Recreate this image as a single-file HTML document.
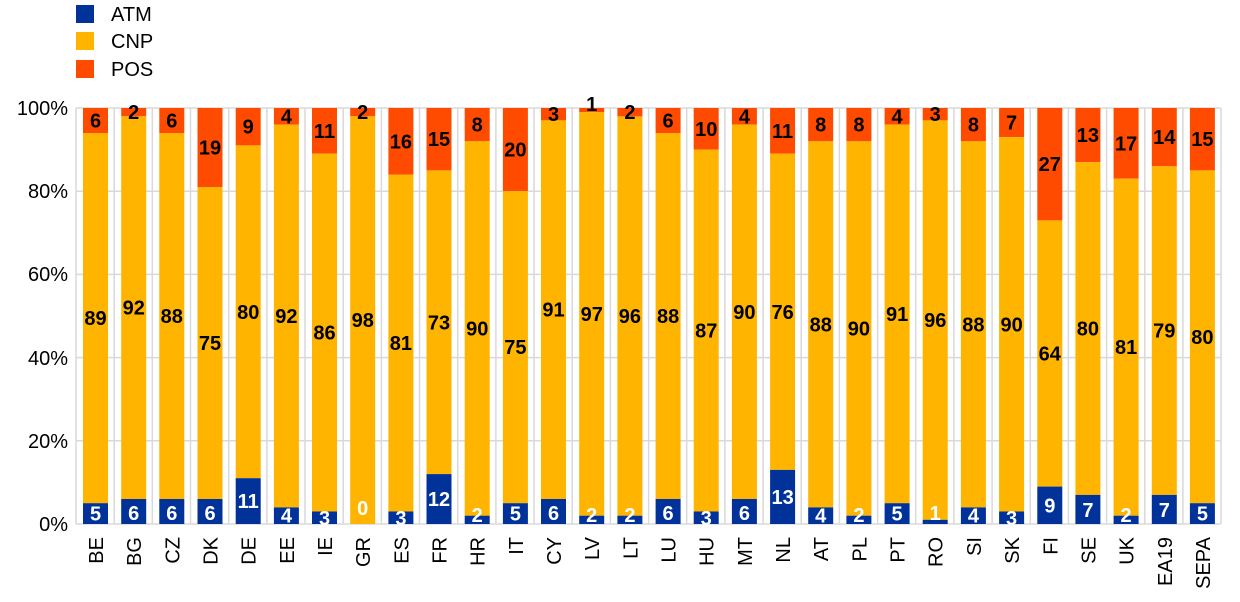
<!DOCTYPE html>
<html><head><meta charset="utf-8"><style>
body{margin:0;background:#fff}
svg{display:block;font-family:"Liberation Sans",Arial,sans-serif}
.v{font-size:20px;font-weight:bold;text-anchor:middle}
.w{fill:#fff}
.t{font-size:20px}
</style></head><body>
<svg width="1240" height="602" viewBox="0 0 1240 602">
<rect x="76" y="5" width="18" height="18" fill="#003299"/>
<rect x="76" y="32" width="18" height="18" fill="#ffb400"/>
<rect x="76" y="60" width="18" height="18" fill="#ff4b00"/>
<text class="t" x="111" y="21">ATM</text>
<text class="t" x="111" y="48">CNP</text>
<text class="t" x="111" y="76">POS</text>
<g stroke="#d9d9d9" stroke-width="1.5">
<line x1="76" x2="1221" y1="108" y2="108"/><line x1="76" x2="1221" y1="191.2" y2="191.2"/><line x1="76" x2="1221" y1="274.4" y2="274.4"/><line x1="76" x2="1221" y1="357.6" y2="357.6"/><line x1="76" x2="1221" y1="440.8" y2="440.8"/><line x1="76" x2="1221" y1="524" y2="524"/>
<line x1="76" x2="76" y1="108" y2="524"/><line x1="114.2" x2="114.2" y1="108" y2="524"/><line x1="152.3" x2="152.3" y1="108" y2="524"/><line x1="190.5" x2="190.5" y1="108" y2="524"/><line x1="228.7" x2="228.7" y1="108" y2="524"/><line x1="266.9" x2="266.9" y1="108" y2="524"/><line x1="305" x2="305" y1="108" y2="524"/><line x1="343.2" x2="343.2" y1="108" y2="524"/><line x1="381.4" x2="381.4" y1="108" y2="524"/><line x1="419.5" x2="419.5" y1="108" y2="524"/><line x1="457.7" x2="457.7" y1="108" y2="524"/><line x1="495.9" x2="495.9" y1="108" y2="524"/><line x1="534" x2="534" y1="108" y2="524"/><line x1="572.2" x2="572.2" y1="108" y2="524"/><line x1="610.4" x2="610.4" y1="108" y2="524"/><line x1="648.6" x2="648.6" y1="108" y2="524"/><line x1="686.7" x2="686.7" y1="108" y2="524"/><line x1="724.9" x2="724.9" y1="108" y2="524"/><line x1="763.1" x2="763.1" y1="108" y2="524"/><line x1="801.2" x2="801.2" y1="108" y2="524"/><line x1="839.4" x2="839.4" y1="108" y2="524"/><line x1="877.6" x2="877.6" y1="108" y2="524"/><line x1="915.7" x2="915.7" y1="108" y2="524"/><line x1="953.9" x2="953.9" y1="108" y2="524"/><line x1="992.1" x2="992.1" y1="108" y2="524"/><line x1="1030.3" x2="1030.3" y1="108" y2="524"/><line x1="1068.4" x2="1068.4" y1="108" y2="524"/><line x1="1106.6" x2="1106.6" y1="108" y2="524"/><line x1="1144.8" x2="1144.8" y1="108" y2="524"/><line x1="1182.9" x2="1182.9" y1="108" y2="524"/><line x1="1221" x2="1221" y1="108" y2="524"/>
</g>
<g class="t" text-anchor="end">
<text x="68" y="115">100%</text><text x="68" y="198">80%</text><text x="68" y="281">60%</text><text x="68" y="365">40%</text><text x="68" y="448">20%</text><text x="68" y="531">0%</text>
</g>

<g transform="translate(83,0)"><rect y="108" width="25" height="25" fill="#ff4b00"/><rect y="133" width="25" height="370.2" fill="#ffb400"/><rect y="503.2" width="25" height="20.8" fill="#003299"/><text class="v" x="12.5" y="120.5" dy=".35em">6</text><text class="v" x="12.5" y="318.1" dy=".35em">89</text><text class="v w" x="12.5" y="513.6" dy=".35em">5</text><text class="t" transform="translate(20,537) rotate(-90)" text-anchor="end">BE</text></g>
<g transform="translate(121.2,0)"><rect y="108" width="25" height="8.3" fill="#ff4b00"/><rect y="116.3" width="25" height="382.7" fill="#ffb400"/><rect y="499" width="25" height="25" fill="#003299"/><text class="v" x="12.5" y="112" dy=".35em">2</text><text class="v" x="12.5" y="307.7" dy=".35em">92</text><text class="v w" x="12.5" y="513" dy=".35em">6</text><text class="t" transform="translate(20,537) rotate(-90)" text-anchor="end">BG</text></g>
<g transform="translate(159.3,0)"><rect y="108" width="25" height="25" fill="#ff4b00"/><rect y="133" width="25" height="366" fill="#ffb400"/><rect y="499" width="25" height="25" fill="#003299"/><text class="v" x="12.5" y="120.5" dy=".35em">6</text><text class="v" x="12.5" y="316" dy=".35em">88</text><text class="v w" x="12.5" y="513" dy=".35em">6</text><text class="t" transform="translate(20,537) rotate(-90)" text-anchor="end">CZ</text></g>
<g transform="translate(197.5,0)"><rect y="108" width="25" height="79" fill="#ff4b00"/><rect y="187" width="25" height="312" fill="#ffb400"/><rect y="499" width="25" height="25" fill="#003299"/><text class="v" x="12.5" y="147.5" dy=".35em">19</text><text class="v" x="12.5" y="343" dy=".35em">75</text><text class="v w" x="12.5" y="513" dy=".35em">6</text><text class="t" transform="translate(20,537) rotate(-90)" text-anchor="end">DK</text></g>
<g transform="translate(235.7,0)"><rect y="108" width="25" height="37.4" fill="#ff4b00"/><rect y="145.4" width="25" height="332.8" fill="#ffb400"/><rect y="478.2" width="25" height="45.8" fill="#003299"/><text class="v" x="12.5" y="126.7" dy=".35em">9</text><text class="v" x="12.5" y="311.8" dy=".35em">80</text><text class="v w" x="12.5" y="501.1" dy=".35em">11</text><text class="t" transform="translate(20,537) rotate(-90)" text-anchor="end">DE</text></g>
<g transform="translate(273.9,0)"><rect y="108" width="25" height="16.7" fill="#ff4b00"/><rect y="124.7" width="25" height="382.7" fill="#ffb400"/><rect y="507.4" width="25" height="16.6" fill="#003299"/><text class="v" x="12.5" y="116.4" dy=".35em">4</text><text class="v" x="12.5" y="316" dy=".35em">92</text><text class="v w" x="12.5" y="515.7" dy=".35em">4</text><text class="t" transform="translate(20,537) rotate(-90)" text-anchor="end">EE</text></g>
<g transform="translate(312,0)"><rect y="108" width="25" height="45.7" fill="#ff4b00"/><rect y="153.7" width="25" height="357.8" fill="#ffb400"/><rect y="511.5" width="25" height="12.5" fill="#003299"/><text class="v" x="12.5" y="130.9" dy=".35em">11</text><text class="v" x="12.5" y="332.6" dy=".35em">86</text><text class="v w" x="12.5" y="517.8" dy=".35em">3</text><text class="t" transform="translate(20,537) rotate(-90)" text-anchor="end">IE</text></g>
<g transform="translate(350.2,0)"><rect y="108" width="25" height="8.3" fill="#ff4b00"/><rect y="116.3" width="25" height="407.7" fill="#ffb400"/><text class="v" x="12.5" y="112" dy=".35em">2</text><text class="v" x="12.5" y="320.2" dy=".35em">98</text><text class="v w" x="12.5" y="508" dy=".35em">0</text><text class="t" transform="translate(20,537) rotate(-90)" text-anchor="end">GR</text></g>
<g transform="translate(388.4,0)"><rect y="108" width="25" height="66.5" fill="#ff4b00"/><rect y="174.5" width="25" height="337" fill="#ffb400"/><rect y="511.5" width="25" height="12.5" fill="#003299"/><text class="v" x="12.5" y="141.3" dy=".35em">16</text><text class="v" x="12.5" y="343" dy=".35em">81</text><text class="v w" x="12.5" y="517.8" dy=".35em">3</text><text class="t" transform="translate(20,537) rotate(-90)" text-anchor="end">ES</text></g>
<g transform="translate(426.5,0)"><rect y="108" width="25" height="62.4" fill="#ff4b00"/><rect y="170.4" width="25" height="303.7" fill="#ffb400"/><rect y="474.1" width="25" height="49.9" fill="#003299"/><text class="v" x="12.5" y="139.2" dy=".35em">15</text><text class="v" x="12.5" y="322.3" dy=".35em">73</text><text class="v w" x="12.5" y="499" dy=".35em">12</text><text class="t" transform="translate(20,537) rotate(-90)" text-anchor="end">FR</text></g>
<g transform="translate(464.7,0)"><rect y="108" width="25" height="33.3" fill="#ff4b00"/><rect y="141.3" width="25" height="374.4" fill="#ffb400"/><rect y="515.7" width="25" height="8.3" fill="#003299"/><text class="v" x="12.5" y="124.7" dy=".35em">8</text><text class="v" x="12.5" y="328.5" dy=".35em">90</text><text class="v w" x="12.5" y="515" dy=".35em">2</text><text class="t" transform="translate(20,537) rotate(-90)" text-anchor="end">HR</text></g>
<g transform="translate(502.9,0)"><rect y="108" width="25" height="83.2" fill="#ff4b00"/><rect y="191.2" width="25" height="312" fill="#ffb400"/><rect y="503.2" width="25" height="20.8" fill="#003299"/><text class="v" x="12.5" y="149.6" dy=".35em">20</text><text class="v" x="12.5" y="347.2" dy=".35em">75</text><text class="v w" x="12.5" y="513.6" dy=".35em">5</text><text class="t" transform="translate(20,537) rotate(-90)" text-anchor="end">IT</text></g>
<g transform="translate(541,0)"><rect y="108" width="25" height="12.4" fill="#ff4b00"/><rect y="120.4" width="25" height="378.6" fill="#ffb400"/><rect y="499" width="25" height="25" fill="#003299"/><text class="v" x="12.5" y="114.2" dy=".35em">3</text><text class="v" x="12.5" y="309.7" dy=".35em">91</text><text class="v w" x="12.5" y="513" dy=".35em">6</text><text class="t" transform="translate(20,537) rotate(-90)" text-anchor="end">CY</text></g>
<g transform="translate(579.2,0)"><rect y="108" width="25" height="4.2" fill="#ff4b00"/><rect y="112.2" width="25" height="403.5" fill="#ffb400"/><rect y="515.7" width="25" height="8.3" fill="#003299"/><text class="v" x="12.5" y="104" dy=".35em">1</text><text class="v" x="12.5" y="314" dy=".35em">97</text><text class="v w" x="12.5" y="515" dy=".35em">2</text><text class="t" transform="translate(20,537) rotate(-90)" text-anchor="end">LV</text></g>
<g transform="translate(617.4,0)"><rect y="108" width="25" height="8.4" fill="#ff4b00"/><rect y="116.4" width="25" height="399.3" fill="#ffb400"/><rect y="515.7" width="25" height="8.3" fill="#003299"/><text class="v" x="12.5" y="112" dy=".35em">2</text><text class="v" x="12.5" y="316" dy=".35em">96</text><text class="v w" x="12.5" y="515" dy=".35em">2</text><text class="t" transform="translate(20,537) rotate(-90)" text-anchor="end">LT</text></g>
<g transform="translate(655.6,0)"><rect y="108" width="25" height="25" fill="#ff4b00"/><rect y="133" width="25" height="366" fill="#ffb400"/><rect y="499" width="25" height="25" fill="#003299"/><text class="v" x="12.5" y="120.5" dy=".35em">6</text><text class="v" x="12.5" y="316" dy=".35em">88</text><text class="v w" x="12.5" y="513" dy=".35em">6</text><text class="t" transform="translate(20,537) rotate(-90)" text-anchor="end">LU</text></g>
<g transform="translate(693.7,0)"><rect y="108" width="25" height="41.6" fill="#ff4b00"/><rect y="149.6" width="25" height="361.9" fill="#ffb400"/><rect y="511.5" width="25" height="12.5" fill="#003299"/><text class="v" x="12.5" y="128.8" dy=".35em">10</text><text class="v" x="12.5" y="330.6" dy=".35em">87</text><text class="v w" x="12.5" y="517.8" dy=".35em">3</text><text class="t" transform="translate(20,537) rotate(-90)" text-anchor="end">HU</text></g>
<g transform="translate(731.9,0)"><rect y="108" width="25" height="16.6" fill="#ff4b00"/><rect y="124.6" width="25" height="374.4" fill="#ffb400"/><rect y="499" width="25" height="25" fill="#003299"/><text class="v" x="12.5" y="116.3" dy=".35em">4</text><text class="v" x="12.5" y="311.8" dy=".35em">90</text><text class="v w" x="12.5" y="513" dy=".35em">6</text><text class="t" transform="translate(20,537) rotate(-90)" text-anchor="end">MT</text></g>
<g transform="translate(770.1,0)"><rect y="108" width="25" height="45.7" fill="#ff4b00"/><rect y="153.7" width="25" height="316.2" fill="#ffb400"/><rect y="469.9" width="25" height="54.1" fill="#003299"/><text class="v" x="12.5" y="130.9" dy=".35em">11</text><text class="v" x="12.5" y="311.8" dy=".35em">76</text><text class="v w" x="12.5" y="497" dy=".35em">13</text><text class="t" transform="translate(20,537) rotate(-90)" text-anchor="end">NL</text></g>
<g transform="translate(808.2,0)"><rect y="108" width="25" height="33.3" fill="#ff4b00"/><rect y="141.3" width="25" height="366.1" fill="#ffb400"/><rect y="507.4" width="25" height="16.6" fill="#003299"/><text class="v" x="12.5" y="124.7" dy=".35em">8</text><text class="v" x="12.5" y="324.3" dy=".35em">88</text><text class="v w" x="12.5" y="515.7" dy=".35em">4</text><text class="t" transform="translate(20,537) rotate(-90)" text-anchor="end">AT</text></g>
<g transform="translate(846.4,0)"><rect y="108" width="25" height="33.3" fill="#ff4b00"/><rect y="141.3" width="25" height="374.4" fill="#ffb400"/><rect y="515.7" width="25" height="8.3" fill="#003299"/><text class="v" x="12.5" y="124.7" dy=".35em">8</text><text class="v" x="12.5" y="328.5" dy=".35em">90</text><text class="v w" x="12.5" y="515" dy=".35em">2</text><text class="t" transform="translate(20,537) rotate(-90)" text-anchor="end">PL</text></g>
<g transform="translate(884.6,0)"><rect y="108" width="25" height="16.6" fill="#ff4b00"/><rect y="124.6" width="25" height="378.6" fill="#ffb400"/><rect y="503.2" width="25" height="20.8" fill="#003299"/><text class="v" x="12.5" y="116.3" dy=".35em">4</text><text class="v" x="12.5" y="313.9" dy=".35em">91</text><text class="v w" x="12.5" y="513.6" dy=".35em">5</text><text class="t" transform="translate(20,537) rotate(-90)" text-anchor="end">PT</text></g>
<g transform="translate(922.7,0)"><rect y="108" width="25" height="12.4" fill="#ff4b00"/><rect y="120.4" width="25" height="399.4" fill="#ffb400"/><rect y="519.8" width="25" height="4.2" fill="#003299"/><text class="v" x="12.5" y="114" dy=".35em">3</text><text class="v" x="12.5" y="320" dy=".35em">96</text><text class="v w" x="12.5" y="513" dy=".35em">1</text><text class="t" transform="translate(20,537) rotate(-90)" text-anchor="end">RO</text></g>
<g transform="translate(960.9,0)"><rect y="108" width="25" height="33.3" fill="#ff4b00"/><rect y="141.3" width="25" height="366.1" fill="#ffb400"/><rect y="507.4" width="25" height="16.6" fill="#003299"/><text class="v" x="12.5" y="124.7" dy=".35em">8</text><text class="v" x="12.5" y="324.3" dy=".35em">88</text><text class="v w" x="12.5" y="515.7" dy=".35em">4</text><text class="t" transform="translate(20,537) rotate(-90)" text-anchor="end">SI</text></g>
<g transform="translate(999.1,0)"><rect y="108" width="25" height="29.1" fill="#ff4b00"/><rect y="137.1" width="25" height="374.4" fill="#ffb400"/><rect y="511.5" width="25" height="12.5" fill="#003299"/><text class="v" x="12.5" y="122.6" dy=".35em">7</text><text class="v" x="12.5" y="324.3" dy=".35em">90</text><text class="v w" x="12.5" y="517.8" dy=".35em">3</text><text class="t" transform="translate(20,537) rotate(-90)" text-anchor="end">SK</text></g>
<g transform="translate(1037.3,0)"><rect y="108" width="25" height="112.4" fill="#ff4b00"/><rect y="220.4" width="25" height="266.2" fill="#ffb400"/><rect y="486.6" width="25" height="37.4" fill="#003299"/><text class="v" x="12.5" y="164.2" dy=".35em">27</text><text class="v" x="12.5" y="353.5" dy=".35em">64</text><text class="v w" x="12.5" y="505.3" dy=".35em">9</text><text class="t" transform="translate(20,537) rotate(-90)" text-anchor="end">FI</text></g>
<g transform="translate(1075.4,0)"><rect y="108" width="25" height="54.1" fill="#ff4b00"/><rect y="162.1" width="25" height="332.8" fill="#ffb400"/><rect y="494.9" width="25" height="29.1" fill="#003299"/><text class="v" x="12.5" y="135" dy=".35em">13</text><text class="v" x="12.5" y="328.5" dy=".35em">80</text><text class="v w" x="12.5" y="510" dy=".35em">7</text><text class="t" transform="translate(20,537) rotate(-90)" text-anchor="end">SE</text></g>
<g transform="translate(1113.6,0)"><rect y="108" width="25" height="70.7" fill="#ff4b00"/><rect y="178.7" width="25" height="337" fill="#ffb400"/><rect y="515.7" width="25" height="8.3" fill="#003299"/><text class="v" x="12.5" y="143.3" dy=".35em">17</text><text class="v" x="12.5" y="347.2" dy=".35em">81</text><text class="v w" x="12.5" y="515" dy=".35em">2</text><text class="t" transform="translate(20,537) rotate(-90)" text-anchor="end">UK</text></g>
<g transform="translate(1151.8,0)"><rect y="108" width="25" height="58.3" fill="#ff4b00"/><rect y="166.3" width="25" height="328.6" fill="#ffb400"/><rect y="494.9" width="25" height="29.1" fill="#003299"/><text class="v" x="12.5" y="137.2" dy=".35em">14</text><text class="v" x="12.5" y="330.6" dy=".35em">79</text><text class="v w" x="12.5" y="510" dy=".35em">7</text><text class="t" transform="translate(20,537) rotate(-90)" text-anchor="end">EA19</text></g>
<g transform="translate(1189.9,0)"><rect y="108" width="25" height="62.4" fill="#ff4b00"/><rect y="170.4" width="25" height="332.8" fill="#ffb400"/><rect y="503.2" width="25" height="20.8" fill="#003299"/><text class="v" x="12.5" y="139.2" dy=".35em">15</text><text class="v" x="12.5" y="336.8" dy=".35em">80</text><text class="v w" x="12.5" y="513.6" dy=".35em">5</text><text class="t" transform="translate(20,537) rotate(-90)" text-anchor="end">SEPA</text></g>
</svg>
</body></html>
